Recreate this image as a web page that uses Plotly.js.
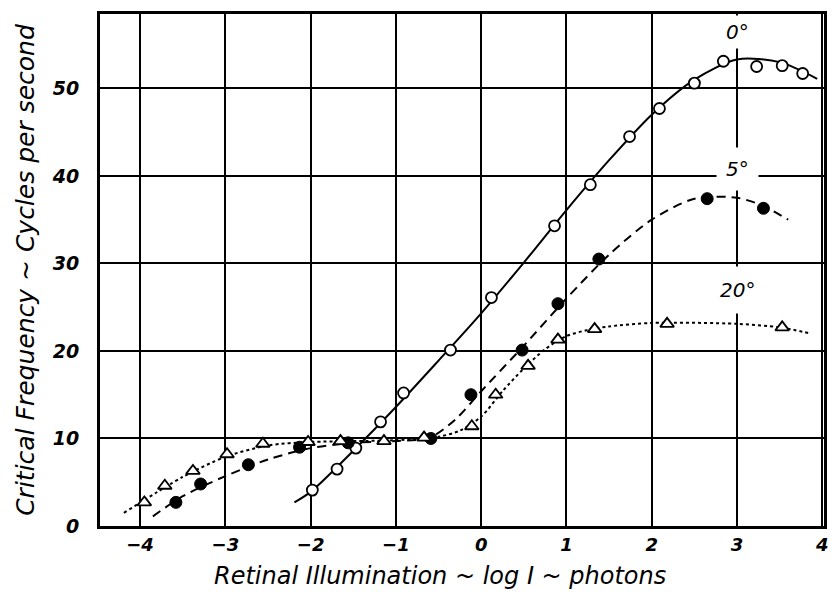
<!DOCTYPE html>
<html><head><meta charset="utf-8">
<script src="https://cdn.plot.ly/plotly-3.0.1.min.js"></script>
<style>body{margin:0;background:#fff}#c{width:833px;height:596px}</style>
</head><body><div id="c"></div>
<script>
// Observed points (log I, critical frequency)
const x0 = [-1.98,-1.69,-1.47,-1.18,-0.91,-0.36,0.12,0.86,1.28,1.74,2.09,2.5,2.84,3.23,3.53,3.77];
const y0 = [4.1,6.5,8.9,11.9,15.2,20.1,26.1,34.3,39.0,44.5,47.7,50.6,53.1,52.5,52.6,51.7];
const x5 = [-3.58,-3.29,-2.73,-2.13,-1.56,-0.59,-0.12,0.48,0.9,1.38,2.65,3.31];
const y5 = [2.7,4.8,7.0,9.0,9.5,10.0,15.0,20.1,25.4,30.5,37.4,36.3];
const x20 = [-3.95,-3.71,-3.38,-2.98,-2.56,-2.03,-1.65,-1.14,-0.67,-0.11,0.17,0.55,0.9,1.33,2.18,3.53];
const y20 = [2.7,4.6,6.3,8.2,9.4,9.6,9.7,9.7,10.1,11.4,15.0,18.3,21.3,22.5,23.1,22.7];
// Fitted curves as drawn
const cx0 = [-2.19,-2,-1.5,-1,-0.5,0,0.5,1,1.5,2,2.5,3,3.5,3.94];
const cy0 = [2.7,3.9,8.6,13.6,18.9,24.3,30.1,36.1,41.8,47,51,53.3,53,51.1];
const cx5 = [-3.85,-3.5,-3,-2.5,-2,-1.5,-1,-0.6,-0.3,0,0.5,1,1.5,2,2.5,3,3.3,3.6];
const cy5 = [1.1,3.4,5.7,7.6,8.9,9.5,9.7,10.1,12.2,15.4,20.6,26,31,35,37.4,37.5,36.6,35.0];
const cx20 = [-4.19,-3.5,-3,-2.5,-2,-1.5,-1,-0.5,-0.25,0,0.25,0.5,0.75,1,1.25,1.5,2,3,3.5,3.86];
const cy20 = [1.5,5.6,7.9,9.2,9.6,9.7,9.8,10.2,10.9,12.5,15.4,18.0,20.2,21.7,22.4,22.8,23.2,23.1,22.7,22.0];
const labels = ["0°","5°","20°"];
const labelX = [3.0,3.0,3.0];
const labelY = [56.4,40.8,27.0];
const xTitle = "Retinal Illumination ~ log I ~ photons";
const yTitle = "Critical Frequency ~ Cycles per second";

const F = "DejaVu Sans";
const traces = [
  {x:cx0,y:cy0,mode:"lines",line:{color:"#000",width:2,shape:"spline",smoothing:0.8}},
  {x:cx5,y:cy5,mode:"lines",line:{color:"#000",width:2,shape:"spline",smoothing:0.8,dash:"9px,6px"}},
  {x:cx20,y:cy20,mode:"lines",line:{color:"#000",width:2,shape:"spline",smoothing:0.8,dash:"dot"}},
  {x:x0,y:y0,mode:"markers",marker:{symbol:"circle",size:11,color:"#fff",line:{color:"#000",width:1.8}}},
  {x:x5,y:y5,mode:"markers",marker:{symbol:"circle",size:12,color:"#000",line:{color:"#000",width:1}}},
  {x:x20,y:y20,mode:"markers",marker:{symbol:"triangle-up",size:12,color:"#fff",line:{color:"#000",width:1.8}}}
];
const pads = [4,9,11];
const annotations = labels.map((t,i)=>({x:labelX[i],y:labelY[i],text:t,showarrow:false,
  font:{family:F,size:20,color:"#000",style:"italic"},bgcolor:"#fff",borderpad:pads[i]}));
annotations.push({xref:"paper",yref:"paper",x:0.469,y:-0.098,xanchor:"center",yanchor:"middle",
  text:xTitle,showarrow:false,font:{family:F,size:24,color:"#000",style:"italic"}});
const layout = {
  width:833,height:596,showlegend:false,
  margin:{l:100,r:9,t:14,b:70},
  paper_bgcolor:"#fff",plot_bgcolor:"#fff",
  font:{family:F,color:"#000"},
  xaxis:{range:[-4.47,4.02],tickvals:[-4,-3,-2,-1,0,1,2,3,4],ticklabeloverflow:"allow",
    showgrid:true,gridcolor:"#000",gridwidth:2,zeroline:false,
    showline:true,mirror:true,linecolor:"#000",linewidth:3,ticks:"",
    tickfont:{family:F,size:18,color:"#000",style:"italic",weight:"bold"}},
  yaxis:{range:[0,58.5],tickvals:[0,10,20,30,40,50],
    showgrid:true,gridcolor:"#000",gridwidth:2,zeroline:false,
    showline:true,mirror:true,linecolor:"#000",linewidth:3,ticks:"",ticklabelstandoff:14,
    tickfont:{family:F,size:19,color:"#000",style:"italic",weight:"bold"},
    title:{text:yTitle,font:{family:F,size:25,color:"#000",style:"italic"},standoff:10}},
  annotations:annotations
};
Plotly.newPlot("c",traces,layout,{staticPlot:true});
</script></body></html>
